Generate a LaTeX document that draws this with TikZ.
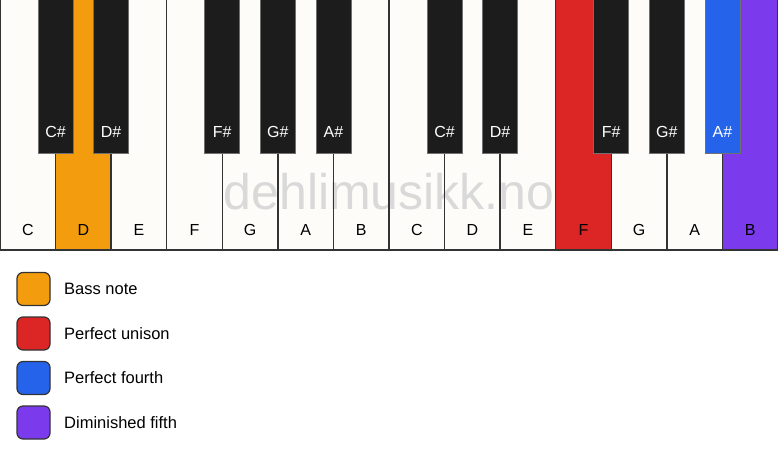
\documentclass[tikz,border=0pt]{standalone}
\usepackage{fontspec}
\setmainfont{Liberation Sans}
\definecolor{wkey}{HTML}{FDFCF9}
\definecolor{bkey}{HTML}{1C1C1C}
\definecolor{edge}{HTML}{333333}
\definecolor{cbass}{HTML}{F39C0E}
\definecolor{cuni}{HTML}{DC2626}
\definecolor{cfour}{HTML}{2563EB}
\definecolor{cdim}{HTML}{7C3AED}
\definecolor{wm}{HTML}{D9D9D9}
\tikzset{
  whitekey/.style={draw=edge, line width=1.4pt, fill=wkey},
  blackkey/.style={draw=edge!70, line width=0.8pt, fill=bkey},
  wlabel/.style={font=\fontsize{16}{16}\selectfont, text=black},
  blabel/.style={font=\fontsize{16}{16}\selectfont, text=white},
  legbox/.style={draw=edge, line width=1.2pt, rounded corners=6pt, minimum width=33pt, minimum height=33pt, inner sep=0pt},
  legtext/.style={font=\fontsize{16.5}{16.5}\selectfont, anchor=west, inner sep=0pt},
}
\begin{document}
\begin{tikzpicture}[x=1pt,y=-1pt]
\useasboundingbox (0,0) rectangle (778,461);
\fill[white] (0,0) rectangle (778,461);
\def\kw{55.571}
% white keys
\foreach \n/\lab/\col [count=\i from 0] in {wC/C/wkey, wD/D/cbass, wE/E/wkey, wF/F/wkey, wG/G/wkey, wA/A/wkey, wB/B/wkey, wC2/C/wkey, wD2/D/wkey, wE2/E/wkey, wF2/F/cuni, wG2/G/wkey, wA2/A/wkey, wB2/B/cdim}{
  \fill[\col] (\i*\kw,0) rectangle ({(\i+1)*\kw},250);
  \node[wlabel] (\n) at ({(\i+0.5)*\kw},230) {\lab};
}
% watermark
\node[text=wm, font=\fontsize{50}{50}\selectfont] (wmark) at (389,192) {dehlimusikk.no};
% white key borders
\foreach \i in {0,...,13}{
  \draw[edge, line width=1.4pt] (\i*\kw,0) -- (\i*\kw,250);
}
\draw[edge, line width=1.4pt] (778,0) -- (778,250);
\draw[edge, line width=1.6pt] (0,250) -- (778,250);
% black keys
\foreach \n/\lab/\b/\col in {bCs/C\#/1/bkey, bDs/D\#/2/bkey, bFs/F\#/4/bkey, bGs/G\#/5/bkey, bAs/A\#/6/bkey, bCs2/C\#/8/bkey, bDs2/D\#/9/bkey, bFs2/F\#/11/bkey, bGs2/G\#/12/bkey, bAs2/A\#/13/cfour}{
  \draw[blackkey, fill=\col] ({\b*\kw-17.5},-1) rectangle ({\b*\kw+17.5},153);
  \node[blabel] (\n) at ({\b*\kw},132) {\lab};
}
% legend
\node[legbox, fill=cbass] (l1) at (33.5,289) {};
\node[legbox, fill=cuni] (l2) at (33.5,333.5) {};
\node[legbox, fill=cfour] (l3) at (33.5,378) {};
\node[legbox, fill=cdim] (l4) at (33.5,422.5) {};
\node[legtext] (t1) at (64,289) {Bass note};
\node[legtext] (t2) at (64,333.5) {Perfect unison};
\node[legtext] (t3) at (64,378) {Perfect fourth};
\node[legtext] (t4) at (64,422.5) {Diminished fifth};
\end{tikzpicture}
\end{document}
